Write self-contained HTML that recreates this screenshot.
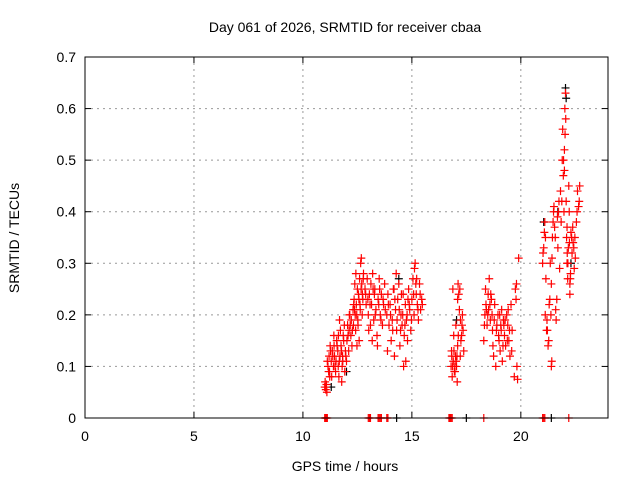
<!DOCTYPE html>
<html><head><meta charset="utf-8"><style>
body{margin:0;background:#fff;font-family:"Liberation Sans",sans-serif}
svg text{font-family:"Liberation Sans",sans-serif;font-size:14px;fill:#000}
</style></head><body>
<svg id="chart" width="640" height="480" xmlns="http://www.w3.org/2000/svg">
<rect width="640" height="480" fill="#fff"/>
<text x="345" y="32" text-anchor="middle">Day 061 of 2026, SRMTID for receiver cbaa</text>
<text transform="translate(19,238) rotate(-90)" text-anchor="middle">SRMTID / TECUs</text>
<text x="345" y="471" text-anchor="middle">GPS time / hours</text>
<g id="grid"></g><g id="axes"></g><g id="marks"></g>
<rect x="85" y="57" width="523" height="361" fill="none" stroke="#000" stroke-width="1"/>
</svg>
<script>
const xTicks=[0,5,10,15,20];
const yTicks=[0,0.1,0.2,0.3,0.4,0.5,0.6,0.7];
const redHours=[11.0,11.02,11.05,11.08,11.1,11.03,
11.15,11.2,11.22,11.25,11.3,11.32,11.35,11.4,11.42,11.45,11.5,11.52,11.55,11.6,11.62,11.65,11.7,11.72,11.75,11.8,11.82,11.85,11.9,11.92,11.95,12.0,11.68,11.78,
12.02,12.05,12.1,12.12,12.15,12.2,12.22,12.25,12.3,12.32,12.35,12.4,12.42,12.45,12.5,12.52,12.55,12.6,12.62,12.65,12.7,12.72,12.75,12.78,12.68,12.58,12.48,12.38,
12.85,12.9,12.95,13.0,13.05,13.1,13.12,13.15,13.2,13.25,13.3,13.35,13.4,13.45,13.5,13.55,13.6,13.65,13.7,13.75,13.18,13.42,
13.85,13.9,13.95,14.0,14.05,14.1,14.15,14.2,14.25,14.3,14.35,14.4,14.45,14.5,14.55,14.6,14.65,14.7,14.75,14.8,14.85,14.9,14.95,15.0,15.05,15.1,15.15,15.2,15.25,15.3,15.35,15.4,15.45,14.28,14.62,14.72,15.12,13.88,
16.8,16.82,16.85,16.9,16.92,16.95,17.0,17.02,17.05,17.08,17.1,17.12,17.15,17.18,17.2,17.22,17.25,17.3,17.32,17.35,17.38,17.1,16.88,
18.3,18.35,18.38,18.4,18.45,18.5,18.52,18.55,18.6,18.65,18.7,18.72,18.75,18.8,18.85,18.9,18.95,19.0,19.05,19.1,19.12,19.15,19.2,19.25,19.3,19.35,19.4,19.45,19.5,19.55,19.6,19.7,19.75,19.8,19.82,19.85,19.9,19.78,
21.0,21.05,21.08,21.1,21.12,21.15,21.2,21.25,21.28,21.3,21.35,21.4,21.45,21.5,21.52,21.55,21.6,21.62,21.65,21.7,21.75,21.78,21.4,21.42,
21.82,21.85,21.9,21.92,21.95,22.0,22.02,22.05,22.08,22.1,22.12,22.15,22.18,22.2,22.22,22.25,22.3,22.35,22.4,22.45,22.5,22.55,22.6,22.65,22.7,22.25,22.0,21.98,22.38,
11.0,11.05,13.0,13.5,13.85,16.7,16.8,18.3,21.0,22.2];
const redValues=[.06,.07,.055,.065,.05,.06,
.1,.12,.09,.14,.11,.08,.13,.1,.16,.12,.09,.11,.15,.13,.1,.08,.12,.17,.14,.1,.12,.16,.18,.09,.13,.11,.19,.07,
.15,.18,.13,.17,.2,.16,.19,.14,.21,.18,.23,.2,.17,.22,.25,.19,.24,.27,.22,.3,.26,.2,.23,.28,.31,.15,.14,.26,
.25,.22,.27,.2,.24,.18,.26,.22,.28,.19,.25,.21,.16,.23,.27,.2,.24,.18,.22,.26,.15,.14,
.2,.24,.18,.22,.15,.19,.25,.12,.21,.17,.23,.26,.14,.2,.18,.24,.16,.22,.19,.15,.25,.21,.17,.23,.27,.2,.3,.24,.22,.19,.26,.21,.23,.28,.1,.11,.29,.13,
.1,.13,.08,.11,.16,.09,.12,.18,.1,.07,.14,.26,.24,.21,.25,.12,.15,.18,.2,.17,.13,.23,.25,
.15,.2,.25,.22,.18,.24,.21,.27,.19,.23,.17,.14,.12,.22,.1,.18,.2,.15,.13,.17,.21,.11,.19,.16,.14,.2,.18,.15,.12,.22,.17,.08,.25,.26,.1,.075,.31,.23,
.3,.33,.36,.38,.2,.27,.19,.14,.15,.22,.3,.26,.35,.4,.41,.37,.21,.19,.23,.33,.42,.29,.1,.11,
.44,.38,.5,.56,.47,.52,.6,.63,.42,.35,.3,.27,.33,.45,.4,.26,.36,.32,.34,.29,.31,.38,.44,.41,.45,.24,.48,.4,.37,
0,0,0,0,0,0,0,0,0,0];
const extraHours=[11.12,11.18,11.27,11.37,11.47,11.57,11.67,11.77,11.87,11.97,11.23,11.43,11.63,11.83,
12.07,12.17,12.27,12.37,12.47,12.57,12.67,12.77,12.13,12.33,12.53,12.73,12.43,12.63,
12.88,12.98,13.08,13.22,13.32,13.48,13.58,13.68,13.78,13.02,13.28,13.52,
13.92,14.02,14.12,14.22,14.32,14.42,14.52,14.58,14.68,14.78,14.88,14.98,15.08,15.18,15.28,15.38,15.48,14.18,14.48,14.82,15.22,
16.83,16.87,16.93,16.98,17.03,17.13,17.23,17.28,16.97,17.07,
18.33,18.42,18.48,18.58,18.68,18.78,18.88,18.98,19.08,19.18,19.28,19.38,19.48,19.58,19.03,19.22,19.42,18.62,
21.02,21.13,21.22,21.33,21.43,21.48,21.58,21.68,21.73,21.18,21.38,
21.88,21.96,22.06,22.13,22.16,22.23,22.28,22.33,22.43,22.48,22.58,22.68,22.03,22.12,22.27,
11.03,11.08,11.12,13.05,13.1,13.45,13.55,13.6,13.9,16.75,16.85,21.05,21.1];
const extraValues=[.11,.09,.13,.12,.1,.14,.11,.13,.15,.12,.08,.14,.16,.11,
.16,.18,.17,.21,.2,.23,.25,.27,.2,.22,.18,.24,.28,.21,
.24,.23,.22,.25,.2,.22,.19,.23,.21,.17,.24,.25,
.22,.2,.17,.23,.19,.21,.24,.2,.18,.2,.22,.19,.24,.26,.21,.24,.22,.25,.17,.23,.27,
.12,.1,.13,.09,.11,.16,.19,.16,.1,.12,
.18,.21,.2,.22,.2,.19,.17,.16,.18,.14,.19,.15,.17,.13,.2,.18,.21,.24,
.32,.35,.17,.23,.31,.38,.35,.39,.4,.17,.2,
.42,.5,.58,.32,.3,.34,.28,.35,.33,.35,.4,.42,.55,.37,.27,
0,0,0,0,0,0,0,0,0,0,0,0,0];
const blackHours=[11.3,12.0,14.4,17.05,21.05,22.05,22.08,21.7,22.3,14.3,17.5,21.4];
const blackValues=[.06,.09,.27,.19,.38,.64,.62,.4,.3,0,0,0];
const NS="http://www.w3.org/2000/svg";
const X=h=>85+h*(523/24), Y=v=>418-v*(361/0.7);
const grid=document.getElementById('grid'),axes=document.getElementById('axes'),marks=document.getElementById('marks');
function mk(tag,attrs,parent){const e=document.createElementNS(NS,tag);for(const k in attrs)e.setAttribute(k,attrs[k]);parent.appendChild(e);return e;}
xTicks.forEach(t=>{const x=X(t);
 if(t>0){const g=mk('line',{x1:x,x2:x,y1:57,y2:418,stroke:'#999','stroke-dasharray':'2,4'},grid);
 
 }
 const l=mk('text',{x:x,y:441,'text-anchor':'middle'},axes);l.textContent=t;
 
 
 mk('line',{x1:x,x2:x,y1:418,y2:412,stroke:'#000'},axes);mk('line',{x1:x,x2:x,y1:57,y2:63,stroke:'#000'},axes);});
yTicks.forEach(t=>{const y=Y(t);
 if(t>0&&t<0.7){const g=mk('line',{x1:85,x2:608,y1:y,y2:y,stroke:'#999','stroke-dasharray':'2,4'},grid);
 
 }
 const l=mk('text',{x:76,y:y+5,'text-anchor':'end'},axes);l.textContent=t===0?'0':t.toFixed(1);
 
 
 mk('line',{x1:85,x2:91,y1:y,y2:y,stroke:'#000'},axes);mk('line',{x1:608,x2:602,y1:y,y2:y,stroke:'#000'},axes);});
function plus(h,v,c,name){const x=X(h),y=Y(v);
 const p=mk('path',{d:`M${x-4} ${y}H${x+4}M${x} ${y-4}V${y+4}`,stroke:c,'stroke-width':1.2,fill:'none'},marks);
 
 }
blackHours.forEach((h,i)=>plus(h,blackValues[i],'#000','black-point'));
redHours.forEach((h,i)=>plus(h,redValues[i],'#f00','red-point'));
extraHours.forEach((h,i)=>plus(h,extraValues[i],'#f00','red-point'));
</script>
</body></html>
